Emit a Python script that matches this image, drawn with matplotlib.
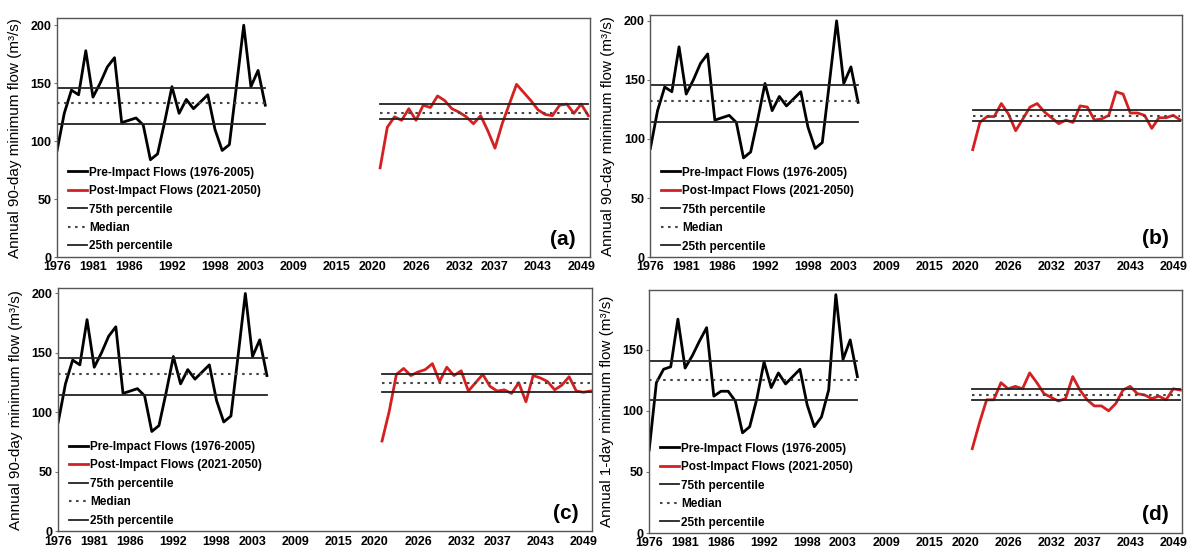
import numpy as np
import matplotlib
matplotlib.use("Agg")
import matplotlib.pyplot as plt

# years
pre_years = list(range(1976, 2006))
post_years = list(range(2021, 2051))
xtick_years = [1976, 1981, 1986, 1992, 1998, 2003, 2009, 2015, 2020, 2026, 2032, 2037, 2043, 2049]

# pre-impact flows (same baseline in a, b, c)
pre_90day = [92, 124, 144, 140, 178, 138, 150, 164, 172, 116, 118, 120, 114, 84, 89, 117,
             147, 124, 136, 128, 134, 140, 110, 92, 97, 148, 200, 147, 161, 131]
pre_1day = [68, 123, 134, 136, 175, 135, 145, 157, 168, 112, 116, 116, 108, 82, 87, 110,
            140, 119, 131, 122, 128, 134, 105, 87, 95, 117, 195, 142, 158, 128]

# post-impact flows
post_a = [77, 112, 121, 118, 128, 118, 131, 129, 139, 135, 128, 125, 121, 115, 122,
          109, 94, 115, 132, 149, 142, 135, 127, 123, 122, 131, 132, 124, 132, 122]
post_b = [91, 114, 119, 119, 130, 121, 107, 117, 127, 130, 123, 118, 113, 116, 114,
          128, 127, 116, 117, 120, 140, 138, 122, 122, 120, 109, 118, 118, 120, 116]
post_c = [76, 101, 132, 137, 131, 134, 136, 141, 126, 138, 131, 135, 118, 125, 132,
          122, 118, 119, 116, 125, 109, 131, 129, 126, 119, 123, 130, 118, 117, 118]
post_d = [69, 90, 109, 109, 123, 118, 120, 118, 131, 123, 114, 111, 108, 110, 128,
          117, 109, 104, 104, 100, 106, 117, 120, 114, 113, 110, 112, 109, 118, 117]

# percentile lines (25th, median, 75th)
pre_pct_90 = [114.5, 132.5, 145.5]
pre_pct_1 = [109, 125.5, 141]
post_pct_a = [118.7, 124.7, 132]
post_pct_b = [115.3, 119.2, 124.3]
post_pct_c = [117.6, 124.7, 132.2]
post_pct_d = [109, 113.1, 118.1]

panels = [
    ("(a)", pre_90day, post_a, pre_pct_90, post_pct_a, "Annual 90-day minimum flow (m³/s)",
     [0.048, 0.535, 0.448, 0.432], 206, [0, 50, 100, 150, 200]),
    ("(b)", pre_90day, post_b, pre_pct_90, post_pct_b, "Annual 90-day minimum flow (m³/s)",
     [0.547, 0.535, 0.447, 0.438], 205, [0, 50, 100, 150, 200]),
    ("(c)", pre_90day, post_c, pre_pct_90, post_pct_c, "Annual 90-day minimum flow (m³/s)",
     [0.049, 0.039, 0.449, 0.440], 204.5, [0, 50, 100, 150, 200]),
    ("(d)", pre_1day, post_d, pre_pct_1, post_pct_d, "Annual 1-day minimum flow (m³/s)",
     [0.546, 0.036, 0.448, 0.440], 199, [0, 50, 100, 150]),
]

tick_font = ['Liberation Sans Narrow', 'Liberation Sans', 'DejaVu Sans']

fig = plt.figure(figsize=(11.89, 5.53), dpi=100)

for tag, pre, post, ppre, ppost, ylab, rect, ytop, yt in panels:
    ax = fig.add_axes(rect)
    l1, = ax.plot(pre_years, pre, color='black', lw=2.0, solid_joinstyle='round')
    l2, = ax.plot(post_years, post, color='#d42020', lw=2.0, solid_joinstyle='round')
    # percentile lines, pre and post period
    for yrs, pv in [(pre_years, ppre), (post_years, ppost)]:
        l3, = ax.plot([yrs[0], yrs[-1]], [pv[2], pv[2]], color='#222222', lw=1.3)
        l4, = ax.plot([yrs[0], yrs[-1]], [pv[1], pv[1]], color='#444444', lw=1.5, ls=(0, (1.2, 2.2)))
        l5, = ax.plot([yrs[0], yrs[-1]], [pv[0], pv[0]], color='#222222', lw=1.3)

    ax.set_xlim(1976, 2050.2)
    ax.set_ylim(0, ytop)
    ax.set_xticks(xtick_years)
    ax.set_xticklabels([str(y) for y in xtick_years], family=tick_font, fontsize=9, fontweight='bold')
    ax.set_yticks(yt)
    ax.set_yticklabels([str(v) for v in yt], family=tick_font, fontsize=9, fontweight='bold')
    ax.tick_params(axis='x', length=0, pad=3)
    ax.tick_params(axis='y', length=2, pad=2, color='#777777')
    for s in ax.spines.values():
        s.set_color('#555555')
        s.set_linewidth(1.0)
    ax.set_ylabel(ylab, fontsize=11, family=['Liberation Sans', 'DejaVu Sans'])
    ax.yaxis.set_label_coords(-0.066, 0.5)

    ax.legend([l1, l2, l3, l4, l5],
              ["Pre-Impact Flows (1976-2005)", "Post-Impact Flows (2021-2050)",
               "75th percentile", "Median", "25th percentile"],
              loc='lower left', bbox_to_anchor=(0.0, -0.025), frameon=False,
              handlelength=1.6, handletextpad=0.2, labelspacing=0.55,
              prop={'family': tick_font, 'size': 8.5, 'weight': 'bold'})

    ax.text(0.95, 0.075, tag, transform=ax.transAxes, fontsize=15, fontweight='bold',
            ha='center', va='center', family=['Liberation Sans', 'DejaVu Sans'])

fig.savefig('out.png', dpi=100)
